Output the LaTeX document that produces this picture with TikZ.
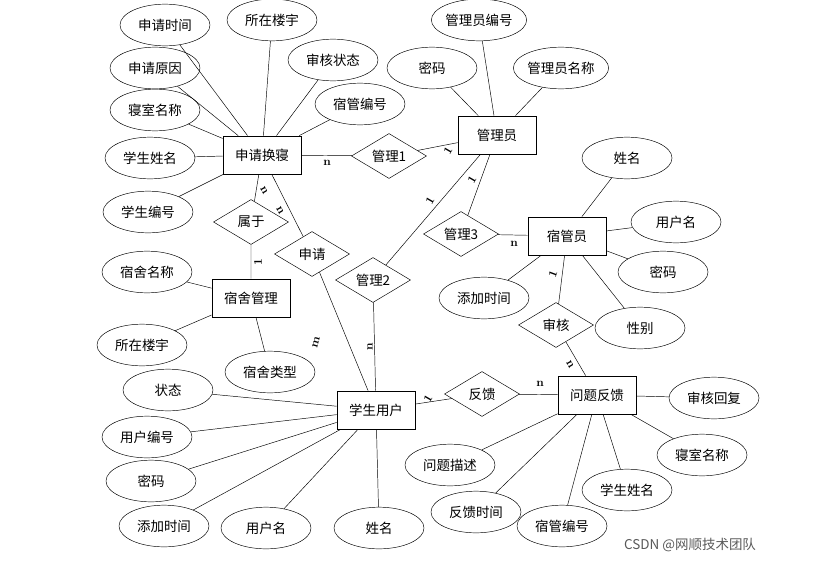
\documentclass[tikz,border=0pt]{standalone}
\usepackage{fontspec}
\newfontfamily\cjk{Noto Sans CJK SC}
\usetikzlibrary{shapes.geometric}
\tikzset{
  font=\cjk\fontsize{11.5}{13}\selectfont,
  semithick,
  entity/.style={draw,rectangle,minimum width=2.35cm,minimum height=1.15cm},
  attr/.style={draw,ellipse,minimum width=2.7cm,minimum height=1.25cm,inner sep=0pt},
  rel/.style={draw,diamond,aspect=1.7,inner sep=0pt,minimum width=2.25cm,minimum height=1.35cm},
  card/.style={font=\bfseries\fontsize{10}{11}\selectfont,inner sep=1pt}
}
\begin{document}
\begin{tikzpicture}[x=0.03cm,y=-0.03cm]
\useasboundingbox (0,0) rectangle (820,563);
% entities
\node[entity] (sq)  at (262,155) {申请换寝};
\node[entity] (gly) at (497,135) {管理员};
\node[entity] (sgy) at (567,236) {宿管员};
\node[entity] (ssg) at (251,298) {宿舍管理};
\node[entity] (xs)  at (376,410) {学生用户};
\node[entity] (wt)  at (597,395) {问题反馈};
% relations
\node[rel] (gl1) at (389,156) {管理1};
\node[rel] (sy)  at (251,222) {属于};
\node[rel] (sqr) at (312,254) {申请};
\node[rel] (gl2) at (373,280) {管理2};
\node[rel] (gl3) at (461,234) {管理3};
\node[rel] (sh)  at (556,325) {审核};
\node[rel] (fk)  at (482,394) {反馈};
% attributes
\node[attr] (a1)  at (165,25)  {申请时间};
\node[attr] (a2)  at (272,20)  {所在楼宇};
\node[attr] (a3)  at (333,60)  {审核状态};
\node[attr] (a4)  at (155,68)  {申请原因};
\node[attr] (a5)  at (360,104) {宿管编号};
\node[attr] (a6)  at (155,110) {寝室名称};
\node[attr] (a7)  at (150,158) {学生姓名};
\node[attr] (a8)  at (148,212) {学生编号};
\node[attr] (b1)  at (479,20)  {管理员编号};
\node[attr] (b2)  at (432,68)  {密码};
\node[attr] (b3)  at (561,68)  {管理员名称};
\node[attr] (c1)  at (627,158) {姓名};
\node[attr] (c2)  at (676,222) {用户名};
\node[attr] (c3)  at (663,272) {密码};
\node[attr] (c4)  at (484,298) {添加时间};
\node[attr] (c5)  at (640,328) {性别};
\node[attr] (d1)  at (147,272) {宿舍名称};
\node[attr] (d2)  at (142,345) {所在楼宇};
\node[attr] (d3)  at (270,372) {宿舍类型};
\node[attr] (e1)  at (168,390) {状态};
\node[attr] (e2)  at (147,437) {用户编号};
\node[attr] (e3)  at (151,481) {密码};
\node[attr] (e4)  at (164,526) {添加时间};
\node[attr] (e5)  at (266,528) {用户名};
\node[attr] (e6)  at (379,528) {姓名};
\node[attr] (f1)  at (714,398) {审核回复};
\node[attr] (f2)  at (450,465) {问题描述};
\node[attr] (f3)  at (702,455) {寝室名称};
\node[attr] (f4)  at (627,490) {学生姓名};
\node[attr] (f5)  at (476,512) {反馈时间};
\node[attr] (f6)  at (562,526) {宿管编号};
% attribute lines
\foreach \a in {a1,a2,a3,a4,a5,a6,a7,a8} \draw (sq) -- (\a);
\foreach \a in {b1,b2,b3} \draw (gly) -- (\a);
\foreach \a in {c1,c2,c3,c4,c5} \draw (sgy) -- (\a);
\foreach \a in {d1,d2,d3} \draw (ssg) -- (\a);
\foreach \a in {e1,e2,e3,e4,e5,e6} \draw (xs) -- (\a);
\foreach \a in {f1,f2,f3,f4,f5,f6} \draw (wt) -- (\a);
% relation lines
\draw (sq) -- (gl1) -- (gly);
\draw (sq) -- (sy) -- (ssg);
\draw (sq) -- (sqr) -- (xs);
\draw (gly) -- (gl2) -- (xs);
\draw (gly) -- (gl3) -- (sgy);
\draw (sgy) -- (sh) -- (wt);
\draw (xs) -- (fk) -- (wt);
% cardinalities
\node[card] at (327,163) {n};
\node[card,rotate=60] at (448,151) {1};
\node[card,rotate=-60] at (264,190) {n};
\node[card,rotate=-60] at (280,210) {n};
\node[card,rotate=90] at (258,262) {1};
\node[card,rotate=60] at (430,201) {1};
\node[card,rotate=60] at (472,180) {1};
\node[card] at (514,244) {n};
\node[card,rotate=70] at (553,274) {1};
\node[card,rotate=-60] at (570,364) {n};
\node[card,rotate=90] at (370,347) {n};
\node[card,rotate=75] at (316,342) {m};
\node[card,rotate=60] at (428,399) {1};
\node[card] at (540,384) {n};
\node[font=\fontsize{11.5}{13}\selectfont,text=black!65] at (690,545) {\cjk CSDN @网顺技术团队};
\end{tikzpicture}
\end{document}
